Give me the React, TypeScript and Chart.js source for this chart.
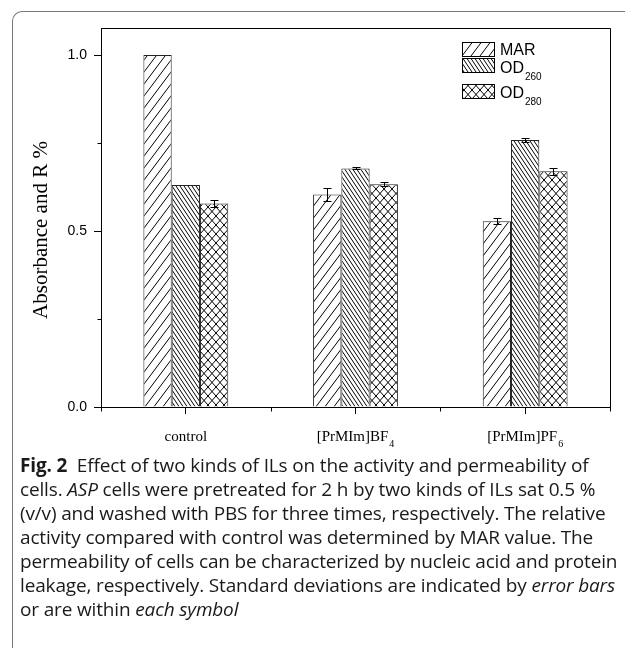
import React, { useEffect, useRef } from "react";
import { Chart, registerables } from "chart.js";

Chart.register(...registerables);

// ---- data ----
const categories = ["control", "[PrMIm]BF4", "[PrMIm]PF6"];
const seriesNames = ["MAR", "OD260", "OD280"];
const marValues = [1.0, 0.604, 0.528];
const marErrors = [0, 0.019, 0.009];
const od260Values = [0.631, 0.678, 0.759];
const od260Errors = [0, 0.003, 0.005];
const od280Values = [0.578, 0.633, 0.67];
const od280Errors = [0.01, 0.006, 0.01];
const yMajorStep = 0.5;
const yMinorTicks = [0.25, 0.75];
const yMin = 0;
const yMax = 1.077;
const yAxisTitle = "Absorbance and R %";

const valueSets = [marValues, od260Values, od280Values];
const errorSets = [marErrors, od260Errors, od280Errors];
const hatchKinds: ("fwd" | "back" | "cross")[] = ["fwd", "back", "cross"];
const hatchW = [9, 4, 8];
const hatchH = [12, 6, 9];

function makePattern(ctx: CanvasRenderingContext2D, kind: string, w: number, h: number) {
  const c = document.createElement("canvas");
  c.width = w;
  c.height = h;
  const g = c.getContext("2d")!;
  g.fillStyle = "#fff";
  g.fillRect(0, 0, w, h);
  g.strokeStyle = "#000";
  g.lineWidth = 1;
  g.beginPath();
  if (kind !== "back") {
    for (let k = -1; k <= 1; k++) {
      g.moveTo(k * w, h);
      g.lineTo(k * w + w, 0);
    }
  }
  if (kind !== "fwd") {
    for (let k = -1; k <= 1; k++) {
      g.moveTo(k * w, 0);
      g.lineTo(k * w + w, h);
    }
  }
  g.stroke();
  return ctx.createPattern(c, "repeat")!;
}

function splitSub(text: string): [string, string] {
  const m = text.match(/^(.*?[A-Za-z\]])(\d+)$/);
  return m ? [m[1], m[2]] : [text, ""];
}

function drawSubText(
  ctx: CanvasRenderingContext2D,
  text: string,
  x: number,
  y: number,
  mainFont: string,
  subFont: string,
  subDrop: number,
  align: "left" | "center"
) {
  const [main, sub] = splitSub(text);
  ctx.save();
  ctx.textBaseline = "alphabetic";
  ctx.textAlign = "left";
  ctx.font = mainFont;
  const wMain = ctx.measureText(main).width;
  ctx.font = subFont;
  const wSub = sub ? ctx.measureText(sub).width + 1 : 0;
  const x0 = align === "center" ? x - (wMain + wSub) / 2 : x;
  ctx.font = mainFont;
  ctx.fillText(main, x0, y);
  if (sub) {
    ctx.font = subFont;
    ctx.fillText(sub, x0 + wMain + 1, y + subDrop);
  }
  ctx.restore();
}

export default function App() {
  const canvasRef = useRef<HTMLCanvasElement | null>(null);

  useEffect(() => {
    const canvas = canvasRef.current;
    if (!canvas) return;
    const ctx = canvas.getContext("2d")!;
    const patterns = hatchKinds.map((k, i) => makePattern(ctx, k, hatchW[i], hatchH[i]));

    const decorPlugin = {
      id: "decor",
      afterDatasetsDraw(chart: any) {
        const c: CanvasRenderingContext2D = chart.ctx;
        const ys = chart.scales.y;
        c.save();
        c.strokeStyle = "#000";
        c.lineWidth = 1;
        errorSets.forEach((errs, di) => {
          const meta = chart.getDatasetMeta(di);
          meta.data.forEach((bar: any, i: number) => {
            const e = errs[i];
            if (!e) return;
            const v = valueSets[di][i];
            const x = Math.round(bar.x) + 0.5;
            const yt = Math.round(ys.getPixelForValue(v + e)) + 0.5;
            const yb = Math.round(ys.getPixelForValue(v - e)) + 0.5;
            c.beginPath();
            c.moveTo(x, yt);
            c.lineTo(x, yb);
            c.moveTo(x - 4, yt);
            c.lineTo(x + 4, yt);
            c.moveTo(x - 4, yb);
            c.lineTo(x + 4, yb);
            c.stroke();
          });
        });
        c.restore();
      },
      afterDraw(chart: any) {
        const c: CanvasRenderingContext2D = chart.ctx;
        const { left, right, top, bottom } = chart.chartArea;
        const xs = chart.scales.x;
        const ys = chart.scales.y;
        c.save();
        c.strokeStyle = "#000";
        c.lineWidth = 1;
        // frame top & right
        c.beginPath();
        c.moveTo(Math.round(left) + 0.5, Math.round(top) + 0.5);
        c.lineTo(Math.round(right) + 0.5, Math.round(top) + 0.5);
        c.lineTo(Math.round(right) + 0.5, Math.round(bottom) + 0.5);
        c.stroke();
        // minor y ticks
        c.beginPath();
        yMinorTicks.forEach((v) => {
          const y = Math.round(ys.getPixelForValue(v)) + 0.5;
          c.moveTo(Math.round(left) + 0.5, y);
          c.lineTo(Math.round(left) - 4 + 0.5, y);
        });
        // minor x ticks at category boundaries
        for (let i = 0; i <= categories.length; i++) {
          const x = Math.round(xs.getPixelForValue(i - 0.5)) + 0.5;
          c.moveTo(x, Math.round(bottom) + 0.5);
          c.lineTo(x, Math.round(bottom) + 4.5);
        }
        c.stroke();
        // x labels
        c.fillStyle = "#000";
        categories.forEach((label, i) => {
          const x = xs.getPixelForValue(i);
          drawSubText(c, label, x, bottom + 34, "15px 'Liberation Serif'", "10px 'Liberation Serif'", 6, "center");
        });
        // y axis title
        c.save();
        c.translate(41, 230);
        c.rotate(-Math.PI / 2);
        c.font = "21px 'Liberation Serif'";
        c.textAlign = "center";
        c.textBaseline = "middle";
        c.fillText(yAxisTitle, 0, 0);
        c.restore();
        // legend
        const boxX = 462;
        const boxW = 32;
        const boxH = 14;
        const boxYs = [42, 58, 84];
        const textYs = [55, 73, 98];
        seriesNames.forEach((name, i) => {
          c.fillStyle = patterns[i];
          c.fillRect(boxX, boxYs[i], boxW, boxH);
          c.strokeStyle = "#000";
          c.strokeRect(boxX + 0.5, boxYs[i] + 0.5, boxW, boxH);
          c.fillStyle = "#000";
          drawSubText(c, name, 500, textYs[i], "16px 'Liberation Sans'", "10px 'Liberation Sans'", 7, "left");
        });
        c.restore();
      },
    };

    const chart = new Chart(ctx, {
      type: "bar",
      data: {
        labels: categories,
        datasets: seriesNames.map((name, i) => ({
          label: name,
          data: valueSets[i],
          backgroundColor: patterns[i],
          borderColor: "#222",
          borderWidth: 1,
          barPercentage: 1,
          categoryPercentage: 0.5,
        })),
      },
      options: {
        animation: false,
        responsive: false,
        devicePixelRatio: 1,
        layout: { padding: { left: 0, right: 15, top: 28, bottom: 0 } },
        plugins: { legend: { display: false }, tooltip: { enabled: false } },
        scales: {
          x: {
            type: "category",
            offset: true,
            grid: { offset: false, drawOnChartArea: false, drawTicks: true, tickLength: 7, color: "#000" },
            border: { display: true, color: "#000", width: 1 },
            ticks: { display: false },
            afterFit: (s: any) => {
              s.height = 53;
            },
          },
          y: {
            min: yMin,
            max: yMax,
            grid: { drawOnChartArea: false, drawTicks: true, tickLength: 7, color: "#000" },
            border: { display: true, color: "#000", width: 1 },
            ticks: {
              stepSize: yMajorStep,
              includeBounds: false,
              color: "#000",
              padding: 7,
              font: { family: "'Liberation Sans'", size: 14 },
              callback: (v: any) => Number(v).toFixed(1),
            },
            afterFit: (s: any) => {
              s.width = 101;
            },
          },
        },
      },
      plugins: [decorPlugin],
    } as any);

    return () => chart.destroy();
  }, []);

  const capStyle: React.CSSProperties = {
    position: "absolute",
    left: 20,
    top: 453,
    fontFamily: "'Open Sans', sans-serif",
    fontSize: 19,
    lineHeight: "24px",
    whiteSpace: "nowrap",
    color: "#1a1a1a",
    letterSpacing: "-0.15px",
  };

  return (
    <div style={{ position: "absolute", left: 0, top: 0, width: 625, height: 651, background: "#fff", overflow: "hidden" }}>
      <div
        style={{
          position: "absolute",
          left: 12,
          top: 11,
          width: 660,
          height: 637,
          borderLeft: "1px solid #777",
          borderTop: "1px solid #777",
          borderTopLeftRadius: 10,
          boxSizing: "border-box",
        }}
      />
      <div style={{ position: "absolute", left: 0, top: 0, width: 625, height: 460 }}>
        <canvas ref={canvasRef} width={625} height={460} style={{ width: 625, height: 460, display: "block" }} />
      </div>
      <div style={capStyle}>
        <b>Fig. 2</b>&nbsp; Effect of two kinds of ILs on the activity and permeability of
        <br />
        cells. <i>ASP</i> cells were pretreated for 2 h by two kinds of ILs sat 0.5 %
        <br />
        (v/v) and washed with PBS for three times, respectively. The relative
        <br />
        activity compared with control was determined by MAR value. The
        <br />
        permeability of cells can be characterized by nucleic acid and protein
        <br />
        leakage, respectively. Standard deviations are indicated by <i>error bars</i>
        <br />
        or are within <i>each symbol</i>
      </div>
    </div>
  );
}
